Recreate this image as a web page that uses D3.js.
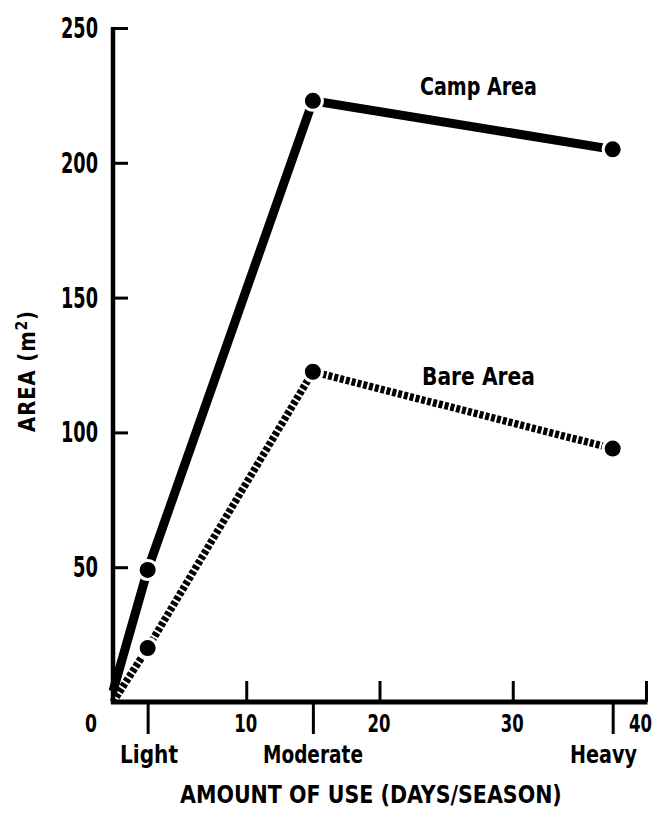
<!DOCTYPE html>
<html><head><meta charset="utf-8">
<script src="https://cdn.jsdelivr.net/npm/d3@7"></script>
<style>
html,body{margin:0;padding:0;background:#fff;}
svg text{font-family:"DejaVu Sans Condensed","DejaVu Sans",sans-serif;font-stretch:condensed;font-weight:bold;fill:#000;}
</style></head><body>
<svg id="chart" width="658" height="819"></svg>
<script>
// ---- data ----
const yTickValues = [50, 100, 150, 200, 250];
const xTickValues = [10, 20, 30, 40];
const useLevels = ["Light", "Moderate", "Heavy"];
const useDays = [2.6, 15, 37.5];
const campDays = [0, 2.6, 15, 37.5];
const campArea = [4, 49, 223, 205];
const bareDays = [0, 2.6, 15, 37.5];
const bareArea = [0, 20, 122.5, 94];
const seriesNames = ["Camp Area", "Bare Area"];

const svg = d3.select("#chart");
const x = d3.scaleLinear().domain([0, 40]).range([113, 646]);
const y = d3.scaleLinear().domain([0, 250]).range([702, 28]);

// squeeze a text horizontally to a target width via a transform (keeps it as real text)
function squeeze(g, txt, size, w, anchor) {
  const t = g.append("text").attr("font-size", size).attr("text-anchor", anchor || "start").text(txt);
  const nat = t.node().getComputedTextLength();
  t.attr("transform", `scale(${w / nat},1)`);
  return t;
}
function place(px, py) {
  return svg.append("g").attr("transform", `translate(${px},${py})`);
}

// y ticks (inside, to the right)
const yAx = svg.append("g").attr("transform", `translate(${x(0)},0)`)
  .call(d3.axisRight(y).tickValues(yTickValues).tickSize(15).tickFormat(""));
yAx.select(".domain").remove();
yAx.selectAll(".tick line").attr("stroke", "#000").attr("stroke-width", 3);

// y labels
yTickValues.forEach(d => {
  squeeze(place(98, y(d) + 10), String(d), 28, String(d).length === 3 ? 37 : 25, "end");
});

// x ticks (upward)
const xAxTop = svg.append("g").attr("transform", `translate(0,${y(0)})`)
  .call(d3.axisTop(x).tickValues(xTickValues).tickSize(21).tickFormat(""));
xAxTop.select(".domain").remove();
xAxTop.selectAll(".tick line").attr("stroke", "#000").attr("stroke-width", 3);

// category ticks (downward)
const xAxBot = svg.append("g").attr("transform", `translate(0,${y(0)})`)
  .call(d3.axisBottom(x).tickValues(useDays).tickSize(32).tickFormat(""));
xAxBot.select(".domain").remove();
xAxBot.selectAll(".tick line").attr("stroke", "#000").attr("stroke-width", 3);

// axis lines
svg.append("line").attr("x1", x(0)).attr("x2", x(0)).attr("y1", y(250) - 1).attr("y2", y(0) + 2)
  .attr("stroke", "#000").attr("stroke-width", 4.5);
svg.append("line").attr("x1", x(0) - 2).attr("x2", x(40) + 1.5).attr("y1", y(0)).attr("y2", y(0))
  .attr("stroke", "#000").attr("stroke-width", 5);

// x numeric labels
xTickValues.forEach(d => {
  squeeze(place(d === 40 ? 652 : x(d) + 11, 732), String(d), 25.5, 23, "end");
});
squeeze(place(x(0) - 16, 732), "0", 25.5, 12, "end");

// category labels
const catLeft = [120, 263, 570];
const catWidth = [58, 100, 67];
useLevels.forEach((d, i) => squeeze(place(catLeft[i], 763), d, 25.5, catWidth[i]));

// axis titles
const yt = svg.append("g").attr("transform", "translate(35,371) rotate(-90)");
const ytText = yt.append("text").attr("text-anchor", "middle").attr("font-size", 23)
  .attr("letter-spacing", 1)
  .html('AREA (m<tspan dy="-8" font-size="16">2</tspan><tspan dy="8">)</tspan>');
const bb = ytText.node().getBBox();
ytText.attr("transform", `scale(${122 / bb.width},1)`);

squeeze(place(180, 803), "AMOUNT OF USE (DAYS/SEASON)", 24, 382);

// lines
const line = d3.line().x(d => x(d[0])).y(d => y(d[1]));
const campPts = campDays.map((d, i) => [d, campArea[i]]);
const barePts = bareDays.map((d, i) => [d, bareArea[i]]);

svg.append("path").datum(campPts).attr("d", line)
  .attr("fill", "none").attr("stroke", "#000").attr("stroke-width", 9).attr("stroke-linejoin", "miter");
svg.append("path").datum(barePts).attr("d", line)
  .attr("fill", "none").attr("stroke", "#000").attr("stroke-width", 7.5).attr("stroke-dasharray", "4,2");

// markers with white halo
[campPts.slice(1), barePts.slice(1)].forEach(pts => {
  svg.append("g").selectAll("circle.h").data(pts).join("circle")
    .attr("cx", d => x(d[0])).attr("cy", d => y(d[1])).attr("r", 11).attr("fill", "#fff");
  svg.append("g").selectAll("circle.m").data(pts).join("circle")
    .attr("cx", d => x(d[0])).attr("cy", d => y(d[1])).attr("r", 8).attr("fill", "#000");
});

// series labels
squeeze(place(420, 95), seriesNames[0], 24, 117);
squeeze(place(422, 385), seriesNames[1], 24, 113);
</script>
</body></html>
